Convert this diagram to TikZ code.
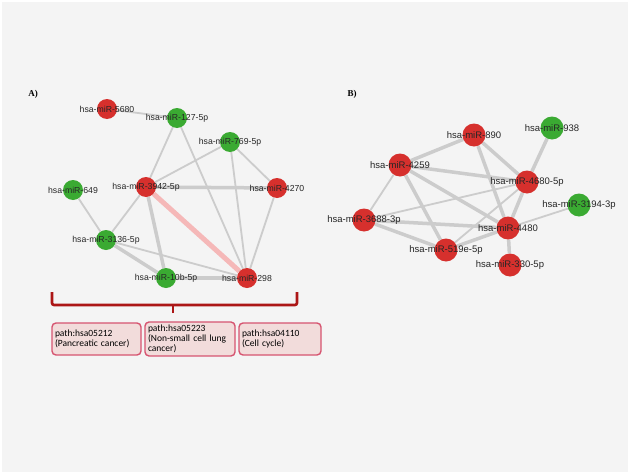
\documentclass[tikz,border=0pt]{standalone}
\usepackage{fontspec}
\setmainfont{Liberation Sans}
\newfontfamily\boxfont{Carlito}
\newfontfamily\headfont{Liberation Serif}
\usetikzlibrary{positioning}
\pgfdeclarelayer{back}
\pgfdeclarelayer{links}
\pgfsetlayers{back,links,main}
\definecolor{mirred}{RGB}{214,48,45}
\definecolor{mirgreen}{RGB}{58,170,50}
\definecolor{bggray}{RGB}{244,244,244}
\definecolor{linkgray}{RGB}{204,204,204}
\definecolor{linkpink}{RGB}{245,184,184}
\definecolor{bracered}{RGB}{172,22,22}
\definecolor{boxline}{RGB}{214,84,112}
\definecolor{boxfill}{RGB}{242,220,219}

\begin{document}
\begin{tikzpicture}[x=1pt,y=-1pt,
  mir/.style={circle,minimum size=20pt,inner sep=0pt},
  up/.style={mir,fill=mirred},
  down/.style={mir,fill=mirgreen},
  bigup/.style={up,minimum size=23pt},
  bigdown/.style={down,minimum size=23pt},
  lab/.style={text=black!85,font=\fontsize{8.7}{10}\selectfont},
  biglab/.style={text=black!85,font=\fontsize{9.5}{11}\selectfont},
  link/.style={draw=linkgray,line width=1.8pt},
  strong/.style={draw=linkgray,line width=3.5pt},
  path box/.style={draw=boxline,fill=boxfill,line width=1.4pt,rounded corners=4pt,
    minimum height=32pt,align=left,text width=#1,inner sep=3pt,
    font=\boxfont\fontsize{9.5}{10}\selectfont},
  head/.style={font=\headfont\bfseries\fontsize{9}{10}\selectfont}]
\useasboundingbox (0,0) rectangle (630,474);
\begin{pgfonlayer}{back}
\fill[white] (0,0) rectangle (630,474);
\fill[bggray] (2,2) rectangle (628,472);
\end{pgfonlayer}

\node (ha) [head] at (33,94) {A)};
\node (m5680) [up] at (107,109) [label={[lab]center:hsa-miR-5680}] {};
\node (m127) [down] at (177,118) [label={[lab]center:hsa-miR-127-5p}] {};
\node (m769) [down] at (230,142) [label={[lab]center:hsa-miR-769-5p}] {};
\node (m3942) [up] at (146,187) [label={[lab]center:hsa-miR-3942-5p}] {};
\node (m4270) [up] at (277,188) [label={[lab]center:hsa-miR-4270}] {};
\node (m649) [down] at (73,190) [label={[lab]center:hsa-miR-649}] {};
\node (m3136) [down] at (106,240) [label={[lab]center:hsa-miR-3136-5p}] {};
\node (m10b) [down] at (166,278) [label={[lab]center:hsa-miR-10b-5p}] {};
\node (m298) [up] at (247,278) [label={[lab]center:hsa-miR-298}] {};

\node (hb) [head] at (352,94) {B)};
\node (m890) [bigup] at (474,135) [label={[biglab]center:hsa-miR-890}] {};
\node (m938) [bigdown] at (552,128) [label={[biglab]center:hsa-miR-938}] {};
\node (m4259) [bigup] at (400,165) [label={[biglab]center:hsa-miR-4259}] {};
\node (m4680) [bigup] at (527,182) [label={[biglab]center:hsa-miR-4680-5p}] {};
\node (m3194) [bigdown] at (579,205) [label={[biglab]center:hsa-miR-3194-3p}] {};
\node (m3688) [bigup] at (364,220) [label={[biglab]center:hsa-miR-3688-3p}] {};
\node (m4480) [bigup] at (508,228) [label={[biglab]center:hsa-miR-4480}] {};
\node (m519) [bigup] at (446,250) [label={[biglab]center:hsa-miR-519e-5p}] {};
\node (m330) [bigup] at (510,265) [label={[biglab]center:hsa-miR-330-5p}] {};

\begin{pgfonlayer}{links}
\draw[link] (m5680) -- (m127);
\draw[link] (m127) -- (m3942);
\draw[link] (m127) -- (m298);
\draw[link] (m769) -- (m3942);
\draw[link] (m769) -- (m4270);
\draw[link] (m769) -- (m298);
\draw[strong] (m3942) -- (m4270);
\draw[draw=linkpink,line width=5pt] (m3942) -- (m298);
\draw[link] (m3942) -- (m3136);
\draw[strong] (m3942) -- (m10b);
\draw[link] (m4270) -- (m298);
\draw[link] (m649) -- (m3136);
\draw[strong] (m3136) -- (m10b);
\draw[link] (m3136) -- (m298);
\draw[strong] (m10b) -- (m298);

\draw[strong] (m890) -- (m4259);
\draw[strong] (m890) -- (m4680);
\draw[strong] (m890) -- (m4480);
\draw[strong] (m938) -- (m4680);
\draw[strong] (m4259) -- (m4680);
\draw[link] (m4259) -- (m3688);
\draw[strong] (m4259) -- (m4480);
\draw[strong] (m4259) -- (m519);
\draw[link] (m4680) -- (m3688);
\draw[strong] (m4680) -- (m4480);
\draw[link] (m4680) -- (m519);
\draw[link] (m3194) -- (m4480);
\draw[strong] (m3688) -- (m4480);
\draw[strong] (m3688) -- (m519);
\draw[strong] (m519) -- (m4480);
\draw[strong] (m4480) -- (m330);
\end{pgfonlayer}

\coordinate (bl) at (52,292);
\coordinate (br) at (297,292);
\coordinate (bm) at (173,313);
\draw[bracered,line width=2.6pt,rounded corners=2pt] (bl) -- ++(0,13) -| (br);
\draw[bracered,line width=2.6pt] (bm) -- ++(0,-8);

\node (p1) [path box=83pt] at (96.5,339) {path:hsa05212\\(Pancreatic cancer)};
\node (p2) [path box=84pt] at (190,339) {path:hsa05223\\(Non-small cell lung\\cancer)};
\node (p3) [path box=76pt] at (280,339) {path:hsa04110\\(Cell cycle)};
\end{tikzpicture}
\end{document}
